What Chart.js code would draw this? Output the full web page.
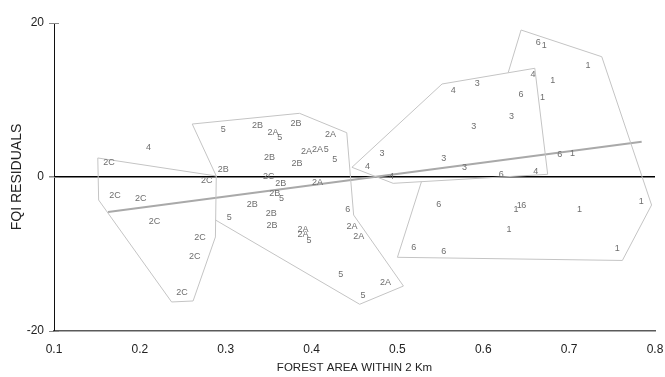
<!DOCTYPE html>
<html><head><meta charset="utf-8">
<script src="https://cdn.jsdelivr.net/npm/chart.js@4/dist/chart.umd.min.js"></script>
<style>html,body{margin:0;padding:0;background:#fff}#wrap{width:665px;height:377px}</style>
</head><body><div id="wrap"><canvas id="c"></canvas></div>
<script>
// ---- axis ticks ----
const xTickValues = [0.1, 0.2, 0.3, 0.4, 0.5, 0.6, 0.7, 0.8];
const yTickValues = [-20, 0, 20];

// ---- labelled points (label text drawn at each point) ----
const g2C_x = [0.164, 0.171, 0.201, 0.217, 0.270, 0.264, 0.249, 0.278, 0.350];
const g2C_y = [1.82, -2.34, -2.73, -5.84, -7.92, -10.39, -15.06, -0.52, 0.04];

const g2B_x = [0.337, 0.382, 0.351, 0.383, 0.297, 0.364, 0.357, 0.331, 0.353, 0.354];
const g2B_y = [6.66, 6.92, 2.51, 1.69, 1.00, -0.82, -2.12, -3.55, -4.71, -6.32];

const g2A_x = [0.355, 0.422, 0.394, 0.407, 0.407, 0.390, 0.390, 0.447, 0.455, 0.486];
const g2A_y = [5.75, 5.55, 3.29, 3.60, -0.74, -6.79, -7.44, -6.45, -7.75, -13.73];

const g5_x = [0.297, 0.363, 0.417, 0.427, 0.365, 0.304, 0.397, 0.434, 0.460];
const g5_y = [6.19, 5.16, 3.60, 2.30, -2.77, -5.23, -8.27, -12.69, -15.36];

const g6_x = [0.442, 0.644, 0.621, 0.689, 0.664, 0.647, 0.548, 0.519, 0.554];
const g6_y = [-4.19, 10.74, 0.30, 2.86, 17.53, -3.73, -3.55, -9.18, -9.70];

const g4_x = [0.210, 0.465, 0.565, 0.658, 0.661, 0.493];
const g4_y = [3.77, 1.34, 11.21, 13.29, 0.69, 0.04];

const g3_x = [0.593, 0.633, 0.589, 0.482, 0.554, 0.578];
const g3_y = [12.17, 7.83, 6.53, 2.99, 2.38, 1.21];

const g1_x = [0.671, 0.722, 0.681, 0.669, 0.704, 0.638, 0.642, 0.712, 0.630, 0.784, 0.756];
const g1_y = [17.14, 14.45, 12.51, 10.32, 2.99, -4.22, -3.68, -4.16, -6.88, -3.21, -9.31];

// ---- outline shapes ----
const poly2C_x = [0.151, 0.289, 0.288, 0.262, 0.237, 0.152, 0.151];
const poly2C_y = [2.47, 0.13, -7.79, -16.10, -16.23, -2.99, 2.47];

const polyMid_x = [0.289, 0.261, 0.386, 0.441, 0.449, 0.507, 0.456, 0.288];
const polyMid_y = [0.13, 6.88, 8.27, 5.75, -4.94, -14.16, -16.53, -5.58];

const poly34_x = [0.447, 0.552, 0.660, 0.675, 0.495, 0.447];
const poly34_y = [1.26, 12.08, 14.12, 0.35, -0.82, 1.26];

const poly16_x = [0.629, 0.644, 0.738, 0.796, 0.762, 0.500, 0.528];
const poly16_y = [13.55, 19.09, 15.62, -3.64, -10.84, -10.43, -0.61];

// ---- trend line end points ----
const trend_x = [0.163, 0.7845];
const trend_y = [-4.55, 4.58];

function pts(xs, ys) { return xs.map((x, i) => ({ x: x, y: ys[i] })); }

const labelGroups = [
  ['2C', g2C_x, g2C_y], ['2B', g2B_x, g2B_y], ['2A', g2A_x, g2A_y], ['5', g5_x, g5_y],
  ['6', g6_x, g6_y], ['4', g4_x, g4_y], ['3', g3_x, g3_y], ['1', g1_x, g1_y]
];

const shapeColor = '#c4c4c4';
const datasets = [];
[[poly2C_x, poly2C_y], [polyMid_x, polyMid_y], [poly34_x, poly34_y], [poly16_x, poly16_y]].forEach(p => {
  datasets.push({ data: pts(p[0], p[1]), showLine: true, borderColor: shapeColor, borderWidth: 1,
    pointRadius: 0, fill: false, tension: 0 });
});
datasets.push({ data: pts(trend_x, trend_y), showLine: true, borderColor: '#a9a9a9', borderWidth: 2,
  pointRadius: 0, fill: false, tension: 0 });
labelGroups.forEach(g => {
  datasets.push({ data: pts(g[1], g[2]), showLine: false, pointRadius: 0, labelText: g[0] });
});

const pointLabels = {
  id: 'pointLabels',
  afterDatasetsDraw(chart) {
    const ctx = chart.ctx;
    ctx.save();
    ctx.font = '9px "Liberation Sans", Arial, sans-serif';
    ctx.fillStyle = '#6e6e6e';
    ctx.textAlign = 'center';
    ctx.textBaseline = 'middle';
    chart.data.datasets.forEach((ds, i) => {
      if (!ds.labelText) return;
      chart.getDatasetMeta(i).data.forEach(el => ctx.fillText(ds.labelText, el.x, el.y));
    });
    ctx.restore();
  }
};

const innerTicks = {
  id: 'innerTicks',
  afterDraw(chart) {
    const ctx = chart.ctx, ys = chart.scales.y, left = chart.chartArea.left;
    ctx.save();
    ctx.strokeStyle = '#8a8a8a';
    ctx.lineWidth = 1;
    yTickValues.forEach(v => {
      const p = Math.round(ys.getPixelForValue(v)) + 0.5;
      ctx.beginPath(); ctx.moveTo(left, p); ctx.lineTo(left + 5, p); ctx.stroke();
    });
    ctx.restore();
  }
};

new Chart(document.getElementById('c'), {
  type: 'scatter',
  data: { datasets: datasets },
  options: {
    responsive: true, maintainAspectRatio: false, animation: false,
    layout: { padding: { top: 23, right: 10, bottom: 0, left: 0 } },
    plugins: { legend: { display: false }, tooltip: { enabled: false } },
    scales: {
      x: {
        type: 'linear', min: 0.1, max: 0.8,
        afterBuildTicks: s => { s.ticks = xTickValues.map(v => ({ value: v })); },
        grid: { display: true, drawOnChartArea: false, drawTicks: true, tickLength: 11, tickColor: 'rgba(0,0,0,0)' },
        border: { display: true, color: '#5a5a5a', width: 1.5 },
        ticks: { color: '#222', font: { family: '"Liberation Sans", Arial', size: 12 }, padding: 0,
          maxRotation: 0, callback: v => v.toFixed(1) },
        title: { display: true, text: 'FOREST AREA WITHIN 2 Km', color: '#222',
          font: { family: '"Liberation Sans", Arial', size: 11.5 }, padding: { top: 0, bottom: 2 } },
        afterFit: s => { s.height = 46; }
      },
      y: {
        type: 'linear', min: -20, max: 20,
        afterBuildTicks: s => { s.ticks = yTickValues.map(v => ({ value: v })); },
        grid: {
          color: c => (c.tick && c.tick.value === 0) ? '#000' : 'rgba(0,0,0,0)',
          lineWidth: c => (c.tick && c.tick.value === 0) ? 1.5 : 1,
          tickColor: '#8a8a8a', drawTicks: true, tickLength: 5
        },
        border: { display: true, color: '#111', width: 1 },
        ticks: { color: '#222', font: { family: '"Liberation Sans", Arial', size: 12 }, padding: 5 },
        title: { display: true, text: 'FQI RESIDUALS', color: '#222',
          font: { family: '"Liberation Sans", Arial', size: 14 }, padding: { top: 9, bottom: 0 } },
        afterFit: s => { s.width = 54; }
      }
    }
  },
  plugins: [pointLabels, innerTicks]
});
</script>
</body></html>
